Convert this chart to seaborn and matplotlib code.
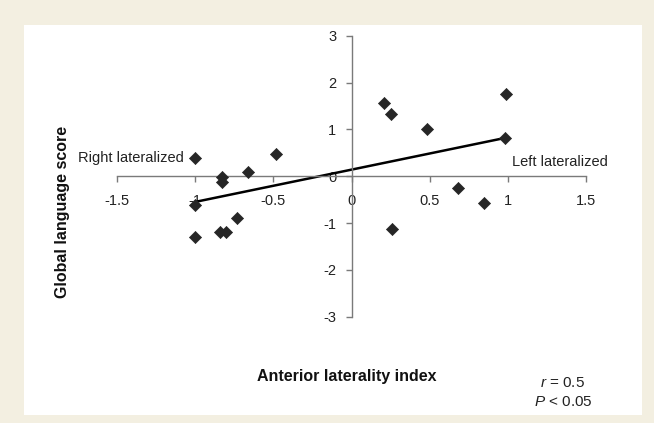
import matplotlib
matplotlib.use("Agg")
import matplotlib.pyplot as plt
import matplotlib.patches as patches
import seaborn as sns
import pandas as pd

# anterior laterality index vs global language score
laterality = [-1.00, -0.83, -0.83, -0.66, -0.48, -1.00, -1.00, -0.84, -0.80, -0.73,
              0.21, 0.25, 0.48, 0.99, 0.98, 0.68, 0.85, 0.26]
language = [0.39, -0.01, -0.13, 0.09, 0.48, -0.62, -1.30, -1.20, -1.20, -0.90,
            1.57, 1.33, 1.01, 1.76, 0.82, -0.25, -0.58, -1.13]
xticks = [-1.5, -1, -0.5, 0, 0.5, 1, 1.5]
xticklabels = ["-1.5", "-1", "-0.5", "0", "0.5", "1", "1.5"]
yticks = [-3, -2, -1, 0, 1, 2, 3]
yticklabels = ["-3", "-2", "-1", "0", "1", "2", "3"]

df = pd.DataFrame({"laterality": laterality, "language": language})

sns.set_style("white")
plt.rcParams["font.family"] = ["Liberation Sans", "DejaVu Sans"]
plt.rcParams["axes.unicode_minus"] = False
plt.rcParams["mathtext.fontset"] = "custom"
plt.rcParams["mathtext.it"] = "Liberation Sans:italic"
plt.rcParams["mathtext.rm"] = "Liberation Sans"

cream = "#f3efe1"
fig = plt.figure(figsize=(6.54, 4.23), dpi=100, facecolor=cream)
# white panel behind the chart
fig.patches.append(patches.Rectangle((24 / 654, 1 - 415 / 423), 618 / 654, 390 / 423,
                                     transform=fig.transFigure, facecolor="white",
                                     edgecolor="none", zorder=-5))
ax = fig.add_axes([117 / 654, 1 - 316.7 / 423, 469 / 654, 281 / 423])
ax.set_zorder(2)
ax.set_facecolor("none")

sns.scatterplot(data=df, x="laterality", y="language", marker="D", s=38,
                color="#262626", edgecolor="#262626", linewidth=0.5, ax=ax, zorder=3)
sns.regplot(data=df, x="laterality", y="language", scatter=False, ci=None,
            truncate=True, color="black", line_kws={"linewidth": 1.8}, ax=ax)

ax.set_xlim(-1.5, 1.5)
ax.set_ylim(-3, 3)
for side in ["top", "right"]:
    ax.spines[side].set_visible(False)
ax.spines["left"].set_position(("data", 0))
ax.spines["bottom"].set_position(("data", 0))
for side in ["left", "bottom"]:
    ax.spines[side].set_color("#7a7a7a")
    ax.spines[side].set_linewidth(1.0)

ax.set_xticks(xticks)
ax.set_xticklabels(xticklabels)
ax.set_yticks(yticks)
ax.set_yticklabels(yticklabels)
ax.tick_params(axis="both", direction="out", length=4, width=1, color="#7a7a7a",
               labelsize=10.5, labelcolor="#222222")
ax.tick_params(axis="x", pad=9)
ax.tick_params(axis="y", pad=7)
ax.tick_params(left=True, bottom=True)
ax.set_xlabel("")
ax.set_ylabel("")

ax.text(-1.07, 0.39, "Right lateralized", ha="right", va="center", fontsize=10.5,
        color="#222222")
ax.text(1.025, 0.30, "Left lateralized", ha="left", va="center", fontsize=10.5,
        color="#222222", clip_on=False)

fig.text(347 / 654, 1 - 377 / 423, "Anterior laterality index", ha="center",
         va="center", fontsize=11.5, fontweight="bold", color="#111111")
fig.text(62 / 654, 1 - 211.5 / 423, "Global language score", ha="center", va="center",
         rotation=90, fontsize=11.5, fontweight="bold", color="#111111")
fig.text(585 / 654, 1 - 383 / 423, r"$\mathit{r}$ = 0.5", ha="right", va="center",
         fontsize=11, color="#222222")
fig.text(593 / 654, 1 - 402 / 423, r"$\mathit{P}$ < 0.05", ha="right", va="center",
         fontsize=11, color="#222222")

fig.savefig("out.png", dpi=100, facecolor=cream)
